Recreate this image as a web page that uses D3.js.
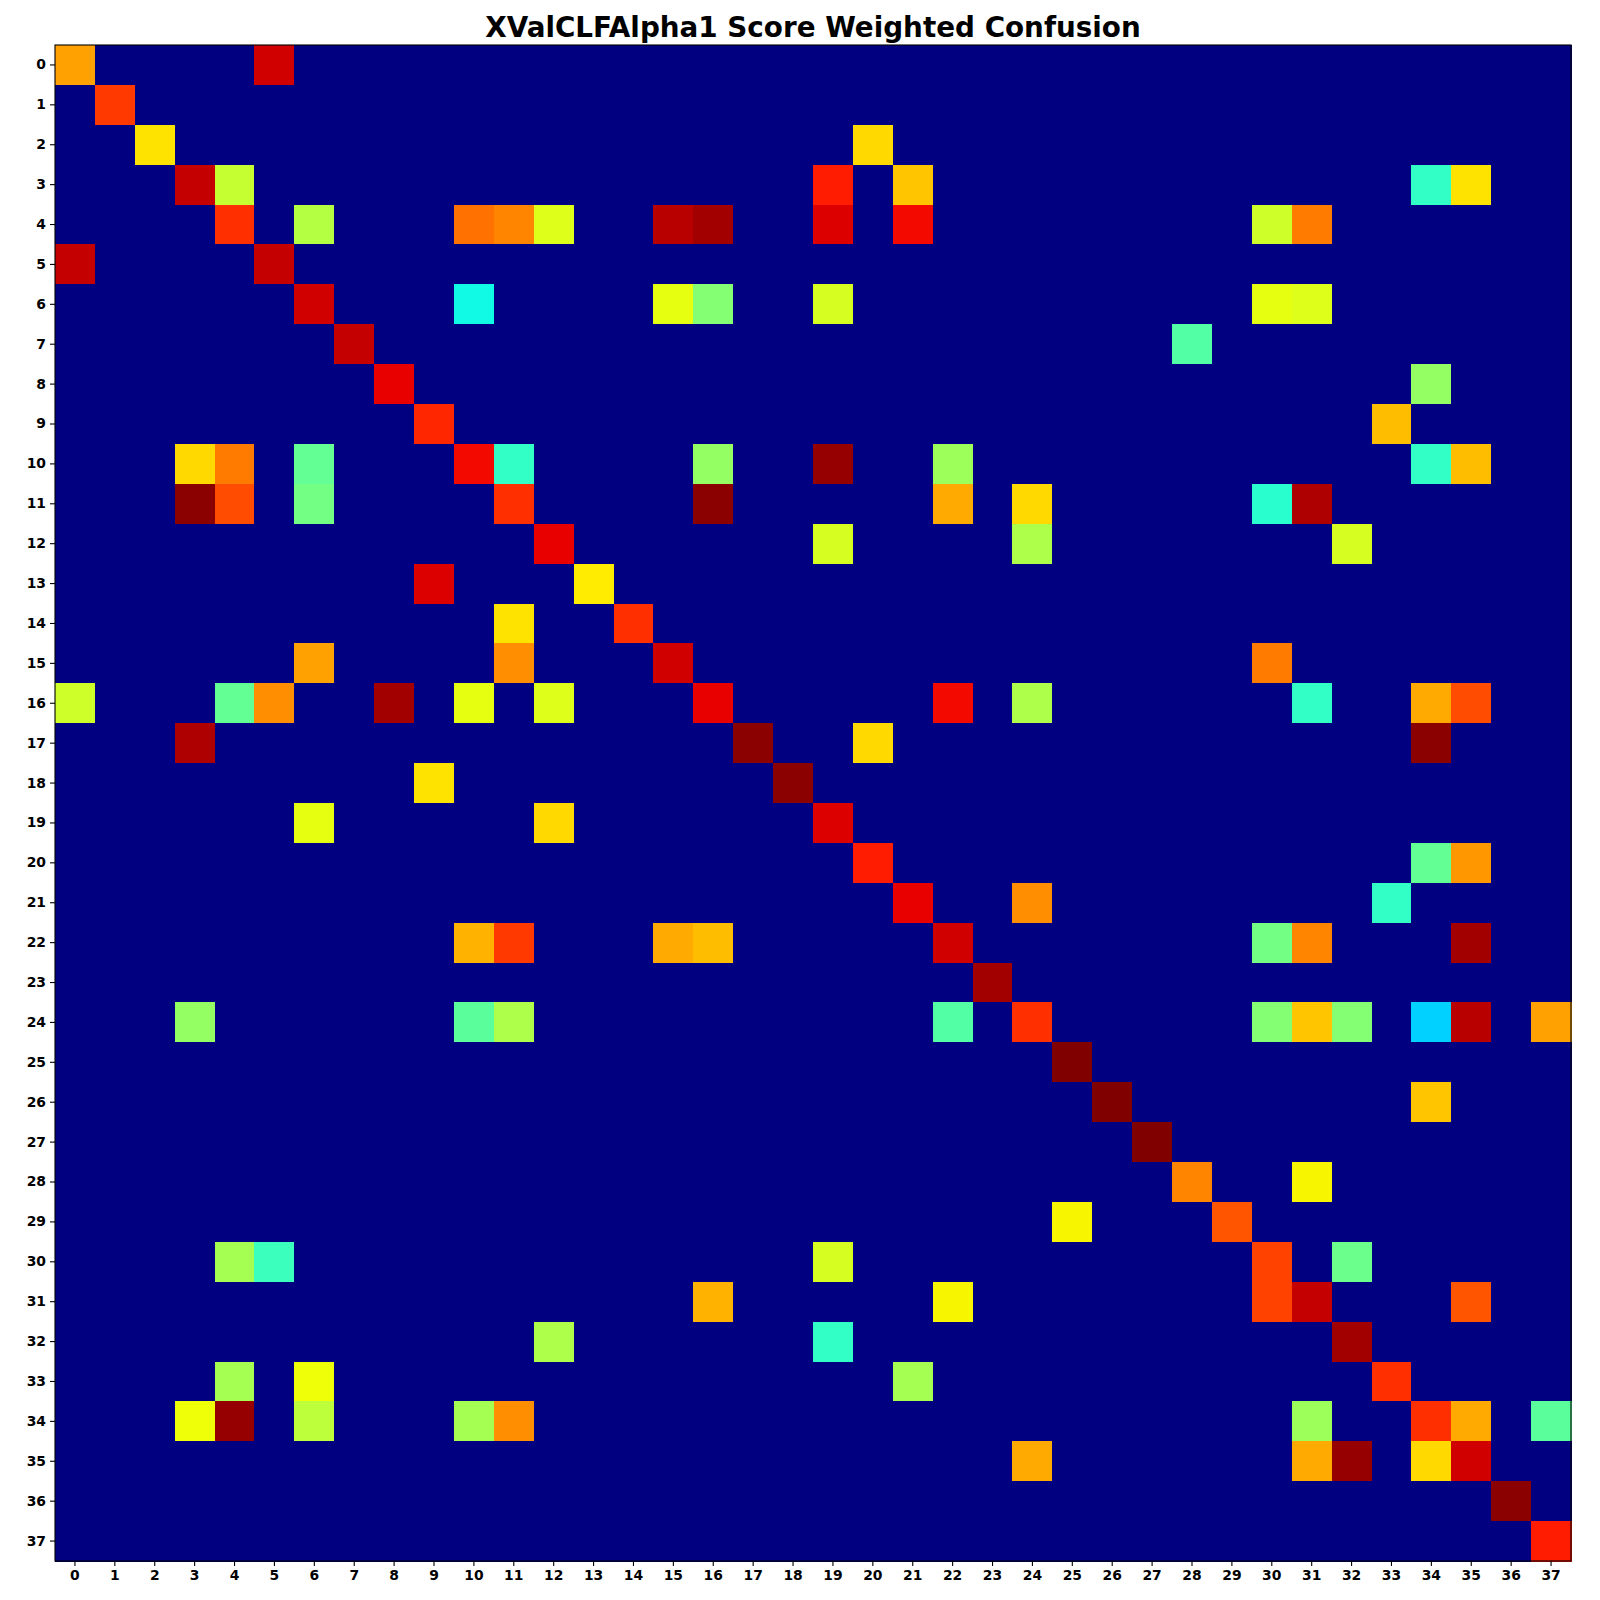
<!DOCTYPE html>
<html>
<head>
<meta charset="utf-8">
<script src="https://d3js.org/d3.v7.min.js"></script>
<style>
  body { margin: 0; background: #fff; }
  text { font-family: "DejaVu Sans", sans-serif; }
</style>
</head>
<body>
<svg id="drawing_region"></svg>
<script>
// labels on both axes
const tickLabels = d3.range(38).map(String);

// non-zero cells: [row, col, value]; everything else is 0
const cells = [
    [0,0,0.74],[0,5,0.93],
    [1,1,0.85],
    [2,2,0.67],[2,20,0.68],
    [3,3,0.94],[3,4,0.59],[3,19,0.88],[3,21,0.70],[3,34,0.41],[3,35,0.67],
    [4,4,0.86],[4,6,0.57],[4,10,0.79],[4,11,0.77],[4,12,0.62],[4,15,0.95],[4,16,0.97],[4,19,0.92],[4,21,0.90],[4,30,0.60],[4,31,0.78],
    [5,0,0.94],[5,5,0.94],
    [6,6,0.93],[6,10,0.37],[6,15,0.63],[6,16,0.51],[6,19,0.61],[6,30,0.63],[6,31,0.62],
    [7,7,0.94],[7,28,0.45],
    [8,8,0.91],[8,34,0.53],
    [9,9,0.87],[9,33,0.71],
    [10,3,0.68],[10,4,0.78],[10,6,0.47],[10,10,0.90],[10,11,0.41],[10,16,0.53],[10,19,0.98],[10,22,0.54],[10,34,0.41],[10,35,0.71],
    [11,3,0.99],[11,4,0.83],[11,6,0.49],[11,11,0.86],[11,16,0.99],[11,22,0.73],[11,24,0.68],[11,30,0.40],[11,31,0.96],
    [12,12,0.91],[12,19,0.61],[12,24,0.56],[12,32,0.61],
    [13,9,0.92],[13,13,0.66],
    [14,11,0.67],[14,14,0.86],
    [15,6,0.74],[15,11,0.76],[15,15,0.93],[15,30,0.78],
    [16,0,0.60],[16,4,0.47],[16,5,0.76],[16,8,0.97],[16,10,0.63],[16,12,0.62],[16,16,0.91],[16,22,0.90],[16,24,0.56],[16,31,0.41],[16,34,0.73],[16,35,0.83],
    [17,3,0.96],[17,17,0.99],[17,20,0.68],[17,34,0.99],
    [18,9,0.67],[18,18,0.99],
    [19,6,0.63],[19,12,0.68],[19,19,0.92],
    [20,20,0.88],[20,34,0.47],[20,35,0.75],
    [21,21,0.91],[21,24,0.76],[21,33,0.41],
    [22,10,0.72],[22,11,0.85],[22,15,0.73],[22,16,0.71],[22,22,0.93],[22,30,0.49],[22,31,0.77],[22,35,0.97],
    [23,23,0.97],
    [24,3,0.53],[24,10,0.46],[24,11,0.56],[24,22,0.45],[24,24,0.86],[24,30,0.51],[24,31,0.70],[24,32,0.51],[24,34,0.33],[24,35,0.95],[24,37,0.74],
    [25,25,1.00],
    [26,26,1.00],[26,34,0.70],
    [27,27,1.00],
    [28,28,0.77],[28,31,0.65],
    [29,25,0.65],[29,29,0.82],
    [30,4,0.55],[30,5,0.42],[30,19,0.61],[30,30,0.84],[30,32,0.48],
    [31,16,0.72],[31,22,0.65],[31,30,0.84],[31,31,0.94],[31,35,0.82],
    [32,12,0.56],[32,19,0.41],[32,32,0.97],
    [33,4,0.55],[33,6,0.64],[33,21,0.55],[33,33,0.86],
    [34,3,0.64],[34,4,0.98],[34,6,0.58],[34,10,0.55],[34,11,0.76],[34,31,0.54],[34,34,0.86],[34,35,0.73],[34,37,0.46],
    [35,24,0.73],[35,31,0.73],[35,32,0.98],[35,34,0.68],[35,35,0.93],
    [36,36,0.99],
    [37,37,0.88]
];

// jet colormap, same breakpoints as matplotlib
const jetR = d3.scaleLinear().domain([0, 0.35, 0.66, 0.89, 1]).range([0, 0, 1, 1, 0.5]).clamp(true);
const jetG = d3.scaleLinear().domain([0, 0.125, 0.375, 0.64, 0.91, 1]).range([0, 0, 1, 1, 0, 0]).clamp(true);
const jetB = d3.scaleLinear().domain([0, 0.11, 0.34, 0.65, 1]).range([0.5, 1, 1, 0, 0]).clamp(true);
const jet = v => d3.rgb(jetR(v) * 255, jetG(v) * 255, jetB(v) * 255).formatHex();

const W = 1600, H = 1600;
const plotLeft = 55, plotTop = 45, plotSize = 1516;

const svg = d3.select('#drawing_region')
    .attr('width', W)
    .attr('height', H);

const n = tickLabels.length;
const grid = [];
for (let r = 0; r < n; r++) for (let c = 0; c < n; c++) grid.push({ r: r, c: c, v: 0 });
cells.forEach(d => { grid[d[0] * n + d[1]].v = d[2]; });

const x = d3.scaleBand().domain(tickLabels).range([plotLeft, plotLeft + plotSize]);
const y = d3.scaleBand().domain(tickLabels).range([plotTop, plotTop + plotSize]);

svg.append('g')
    .selectAll('rect')
    .data(grid)
    .join('rect')
    .attr('x', d => x(tickLabels[d.c]))
    .attr('y', d => y(tickLabels[d.r]))
    .attr('width', x.bandwidth() + 0.5)
    .attr('height', y.bandwidth() + 0.5)
    .attr('fill', d => jet(d.v))
    .attr('shape-rendering', 'crispEdges');

svg.append('rect')
    .attr('x', plotLeft)
    .attr('y', plotTop)
    .attr('width', plotSize)
    .attr('height', plotSize)
    .attr('fill', 'none')
    .attr('stroke', 'black')
    .attr('stroke-width', 1.1);

const xAxis = svg.append('g')
    .attr('transform', `translate(0, ${plotTop + plotSize})`)
    .call(d3.axisBottom(x).tickSize(5).tickPadding(4));
const yAxis = svg.append('g')
    .attr('transform', `translate(${plotLeft}, 0)`)
    .call(d3.axisLeft(y).tickSize(5).tickPadding(4));

[xAxis, yAxis].forEach(a => {
    a.select('.domain').remove();
    a.selectAll('line').attr('stroke', 'black').attr('stroke-width', 1.1);
    a.selectAll('text')
        .attr('fill', 'black')
        .style('font-family', '"DejaVu Sans", sans-serif')
        .style('font-size', '13.9px')
        .style('font-weight', 'bold');
});

svg.append('text')
    .attr('x', plotLeft + plotSize / 2)
    .attr('y', 37)
    .attr('text-anchor', 'middle')
    .style('font-size', '27.8px')
    .style('font-weight', 'bold')
    .text('XValCLFAlpha1 Score Weighted Confusion');
</script>
</body>
</html>
